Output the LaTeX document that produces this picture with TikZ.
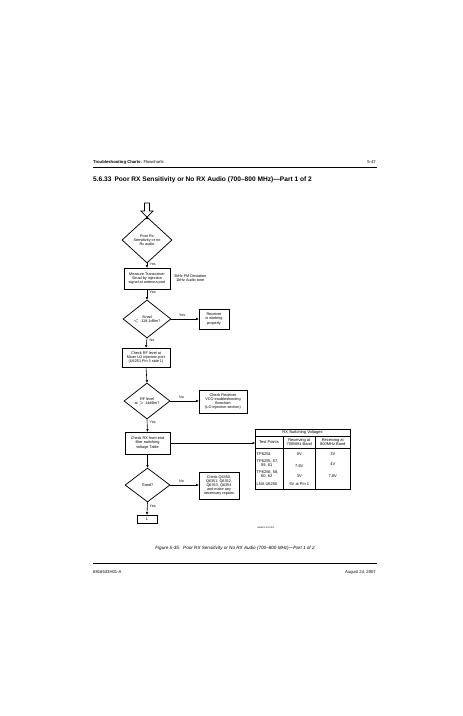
\documentclass[tikz,border=0pt]{standalone}
\usepackage{fontspec}
\setmainfont{Liberation Sans}
\usetikzlibrary{shapes.geometric,arrows.meta}
\begin{document}
\begin{tikzpicture}[x=1pt,y=-1pt,
  every node/.style={inner sep=0pt, font=\fontsize{3.8}{4.2}\selectfont, align=center},
  procbox/.style={draw, line width=0.75pt, minimum width=#1},
  decide/.style={draw, diamond, line width=0.75pt},
  flow/.style={-{Triangle[length=2.4pt,width=2.2pt]}, line width=0.6pt},
  lbl/.style={font=\fontsize{3.6}{4}\selectfont, anchor=west},
  tline/.style={line width=0.55pt}
]
\useasboundingbox (0,0) rectangle (463,716);
\fill[white] (0,0) rectangle (463,716);
% header
\node[anchor=base west, font=\fontsize{4.2}{5}\selectfont] (hdr) at (93,163.5) {\textbf{Troubleshooting Charts:} Flowcharts};
\node[anchor=base east, font=\fontsize{4.2}{5}\selectfont] (pg) at (376,163.5) {5-47};
\draw[line width=1pt] (93,167.5) -- (376.5,167.5);
\node[anchor=base west, font=\bfseries\fontsize{6.6}{8}\selectfont] (ttl) at (93,181) {5.6.33\hspace{3pt}Poor RX Sensitivity or No RX Audio (700--800 MHz)---Part 1 of 2};
% hollow start arrow
\draw[line width=0.7pt] (144.5,203) -- (149.5,203) -- (149.5,211) -- (153,211) -- (147,217) -- (141,211) -- (144.5,211) -- cycle;
\coordinate (start) at (147,217);
% nodes
\node[decide, minimum width=50pt, minimum height=46pt] (d1) at (147,240) {Poor Rx\\Sensitivity or no\\Rx audio};
\node[procbox=46pt, minimum height=21pt] (b1) at (147,278.5) {Measure Transceiver\\Sinad by injection\\signal at antenna port};
\node[anchor=west] (side) at (174,278.5) {3kHz FM Deviation\\1kHz Audio tone};
\node[decide, minimum width=48pt, minimum height=38pt] (d2) at (147,319) {Sinad\\$<$ -119.1dBm?};
\node[procbox=30pt, minimum height=20pt] (ok) at (214,319) {Receiver\\is working\\properly};
\node[procbox=48pt, minimum height=19pt] (b2) at (146,357.5) {Check RF level at\\Mixer LO injection port\\(U6251 Pin 3 side 1)};
\node[decide, minimum width=46pt, minimum height=36pt] (d3) at (147,401) {RF level\\at $>$ 14dBm?};
\node[procbox=48pt, minimum height=23pt] (vco) at (223,401.5) {Check Receiver\\VCO troubleshooting\\flowchart\\(LO injection section)};
\node[procbox=45pt, minimum height=22pt] (b3) at (147.5,443) {Check RX front-end\\filter switching\\voltage Table};
\node[decide, minimum width=45pt, minimum height=34pt] (d4) at (147.5,485) {Good?};
\node[procbox=40pt, minimum height=27pt] (rep) at (219,485.5) {Check Q6350,\\Q6351, Q6352,\\Q6353, Q6354\\and make any\\necessary repairs};
\node[procbox=20pt, minimum height=8pt] (one) at (147,519) {1};
% connectors
\draw[flow] (start) -- (d1.north);
\draw[flow] (d1.south) -- (b1.north);
\draw[flow] (b1.south) -- (d2.north);
\draw[flow] (d2.east) -- (ok.west);
\draw[flow] (d2.south) -- (b2.north);
\draw[flow] (b2.south) -- (d3.north);
\draw[flow] (d3.east) -- (vco.west |- d3.east);
\draw[flow] (d3.south) -- (b3.north);
\draw[flow] (b3.south) -- (d4.north);
\draw[flow] (d4.east) -- (rep.west |- d4.east);
\draw[flow] (d4.south) -- (one.north);
% labels
\node[lbl] (y1) at (149.5,264.5) {Yes};
\node[lbl] (y2) at (149.5,292.5) {Yes};
\node[lbl] (y3) at (179,315.5) {Yes};
\node[lbl] (n1) at (149.5,340.5) {No};
\node[lbl] (n2) at (179,397.5) {No};
\node[lbl] (y4) at (149.5,422.5) {Yes};
\node[lbl] (n3) at (179,481.5) {No};
\node[lbl] (y5) at (149.5,506.5) {Yes};
% table
\coordinate (tl) at (255,429);
\draw[line width=0.8pt] (255,429) rectangle (350,489);
\draw[tline] (255,436.5) -- (350,436.5);
\draw[tline] (255,448) -- (350,448);
\draw[tline] (283,436.5) -- (283,489);
\draw[tline] (315.5,436.5) -- (315.5,489);
\node[font=\fontsize{4}{4.5}\selectfont] (th) at (302.5,432.8) {RX Switching Voltages};
\node[font=\fontsize{4}{4.5}\selectfont] (tc1) at (269,442.3) {Test Points};
\node[font=\fontsize{4}{4.4}\selectfont] (tc2) at (299.3,442.3) {Receiving at\\700MHz Band};
\node[font=\fontsize{4}{4.4}\selectfont] (tc3) at (332.8,442.3) {Receiving at\\800MHz Band};
\begin{scope}[every node/.append style={font=\fontsize{4}{4.6}\selectfont}]
\node[anchor=west] (r1a) at (256.5,454) {TP6254};
\node (r1b) at (299.3,454) {0V};
\node (r1c) at (332.8,454) {3V};
\node[anchor=west, align=left] (r2a) at (256.5,463.5) {TP6255, 57,\\\hspace{4.5pt}59, 61};
\node (r2b) at (299.3,466) {7.6V};
\node (r2c) at (332.8,464) {4V};
\node[anchor=west, align=left] (r3a) at (256.5,474.5) {TP6256, 58,\\\hspace{4.5pt}60, 62};
\node (r3b) at (299.3,476.5) {3V};
\node (r3c) at (332.8,476.5) {7.6V};
\node[anchor=west] (r4a) at (256.5,484.3) {LNA U6250};
\node (r4b) at (299.3,484.3) {5V at Pin 1};
\end{scope}
\draw[flow] (b3.east) -- (tl |- b3.east);
\node[font=\fontsize{2.2}{2.5}\selectfont] (code) at (266,528) {MAEPF-27875-O};
% caption and footer
\node[anchor=base, font=\itshape\fontsize{4.6}{5.5}\selectfont] (cap) at (235,549.5) {Figure 5-35.\hspace{3pt}Poor RX Sensitivity or No RX Audio (700--800 MHz)---Part 1 of 2};
\draw[line width=1pt] (93,563.5) -- (376.5,563.5);
\node[anchor=base west, font=\fontsize{4.2}{5}\selectfont] (ft1) at (93,573.5) {6816533H01-A};
\node[anchor=base east, font=\fontsize{4.2}{5}\selectfont] (ft2) at (376,573.5) {August 24, 2007};
\end{tikzpicture}
\end{document}
